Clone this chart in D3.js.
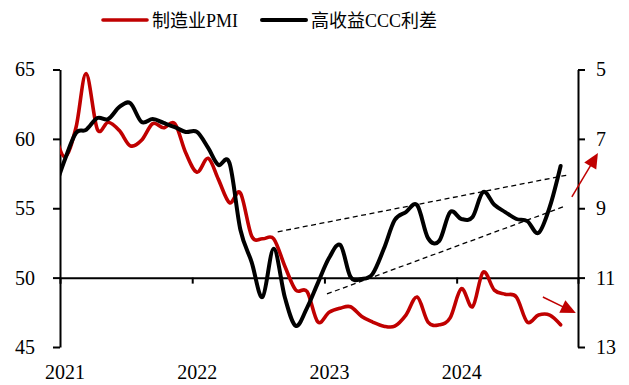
<!DOCTYPE html>
<html>
<head>
<meta charset="utf-8">
<script src="https://cdn.jsdelivr.net/npm/d3@7"></script>
<style>
  body { margin: 0; background: #fff; }
  svg { display: block; }
  text { font-family: "Liberation Serif", "Times New Roman", "Noto Sans CJK SC", serif; fill: #000; }
</style>
</head>
<body>
<svg id="chart" width="629" height="385"></svg>
<script>
// Monthly observations (Dec 2020 – Oct 2024)
const months = [
  "2020-12",
  "2021-01","2021-02","2021-03","2021-04","2021-05","2021-06","2021-07","2021-08","2021-09","2021-10","2021-11","2021-12",
  "2022-01","2022-02","2022-03","2022-04","2022-05","2022-06","2022-07","2022-08","2022-09","2022-10","2022-11","2022-12",
  "2023-01","2023-02","2023-03","2023-04","2023-05","2023-06","2023-07","2023-08","2023-09","2023-10","2023-11","2023-12",
  "2024-01","2024-02","2024-03","2024-04","2024-05","2024-06","2024-07","2024-08","2024-09","2024-10"
];

// Manufacturing PMI (left axis)
const pmi = [
  60.7,
  58.7, 60.8, 64.7, 60.7, 61.2, 60.6, 59.5, 59.9, 61.1, 60.8, 61.1, 59.0,
  57.6, 58.6, 57.1, 55.4, 56.1, 53.0, 52.8, 52.8, 50.8, 49.1, 49.0, 46.8,
  47.5, 47.8, 47.9, 47.2, 46.8, 46.5, 46.5, 47.3, 48.6, 46.8, 46.6, 47.1,
  49.2, 47.9, 50.4, 49.1, 48.8, 48.6, 46.8, 47.3, 47.3, 46.6
];

// High-yield CCC spread, % (right axis, inverted)
const cccSpread = [
  8.55,
  7.61, 6.83, 6.74, 6.40, 6.43, 6.08, 5.97, 6.51, 6.43, 6.54, 6.66, 6.80,
  6.80, 7.26, 7.75, 7.70, 9.62, 10.55, 11.56, 10.17, 11.58, 12.39, 11.87, 11.15,
  10.43, 10.06, 10.98, 11.04, 10.89, 10.17, 9.34, 9.11, 8.91, 9.86, 9.94, 9.11,
  9.31, 9.25, 8.53, 8.90, 9.11, 9.31, 9.37, 9.71, 8.96, 7.78
];

const seriesNames = ["制造业PMI", "高收益CCC利差"];
const leftTicks = [45, 50, 55, 60, 65];
const rightTicks = [5, 7, 9, 11, 13];
const yearLabels = ["2021", "2022", "2023", "2024"];

// Trend channel drawn on the spread (date, right-axis value)
const trendUpper = [["2022-08-25", 9.68], ["2024-11-03", 8.04]];
const trendLower = [["2023-01-08", 11.47], ["2024-10-29", 8.93]];

// Direction arrows (date, right-axis value): spread narrowing, PMI softening
const arrowSpread = [["2024-11-14", 8.67], ["2025-01-25", 7.41]];
const arrowPmi = [["2024-08-26", 11.56], ["2024-11-25", 12.02]];

const RED = "#C00000";
const BLACK = "#000000";

const svg = d3.select("#chart");
const parseMonth = d3.timeParse("%Y-%m");
const parseDay = d3.timeParse("%Y-%m-%d");
const monthDate = m => { const d = parseMonth(m); d.setDate(14); return d; };

const x = d3.scaleTime()
  .domain([new Date(2021, 0, 1), new Date(2024, 11, 1)])
  .range([60, 578]);
const yL = d3.scaleLinear().domain([45, 65]).range([347, 69.5]);
const yR = d3.scaleLinear().domain([5, 13]).range([69.5, 347]);

const rows = months.map((m, i) => ({ date: monthDate(m), pmi: pmi[i], ccc: cccSpread[i] }));

// clip the series to the plotting band between the two value axes
svg.append("defs").append("clipPath").attr("id", "plot-clip")
  .append("rect").attr("x", x.range()[0]).attr("y", 0)
  .attr("width", x.range()[1] - x.range()[0]).attr("height", 385);

// x axis sits on PMI = 50
const xAxisY = yL(50);
const years = yearLabels.map(y => new Date(+y, 0, 1));
const xAxis = svg.append("g").attr("transform", `translate(0,${xAxisY})`)
  .call(d3.axisBottom(x).tickValues(years.slice(1)).tickSize(6).tickFormat(""));
xAxis.select(".domain").attr("stroke", BLACK).attr("stroke-width", 2);
xAxis.selectAll(".tick line").attr("stroke", BLACK).attr("stroke-width", 2);

// year labels centred on each January
svg.append("g").selectAll("text").data(yearLabels).join("text")
  .attr("x", d => x(new Date(+d, 0, 15)))
  .attr("y", 379)
  .attr("text-anchor", "middle")
  .attr("font-size", 20)
  .text(d => d);

// left axis
const left = svg.append("g").attr("transform", `translate(${x.range()[0]},0)`)
  .call(d3.axisLeft(yL).tickValues(leftTicks).tickSize(7).tickPadding(18).tickSizeOuter(0));
left.select(".domain").attr("stroke", BLACK).attr("stroke-width", 2);
left.selectAll(".tick line").attr("stroke", BLACK).attr("stroke-width", 2);
left.selectAll(".tick text").attr("font-size", 20).attr("font-family", null);

// right axis
const right = svg.append("g").attr("transform", `translate(${x.range()[1]},0)`)
  .call(d3.axisRight(yR).tickValues(rightTicks).tickSize(7).tickPadding(11).tickSizeOuter(0));
right.select(".domain").attr("stroke", BLACK).attr("stroke-width", 2);
right.selectAll(".tick line").attr("stroke", BLACK).attr("stroke-width", 2);
right.selectAll(".tick text").attr("font-size", 20).attr("font-family", null);

// trend channel (dashed)
[trendUpper, trendLower].forEach(seg => {
  svg.append("path")
    .attr("d", d3.line()(seg.map(([d, v]) => [x(parseDay(d)), yR(v)])))
    .attr("fill", "none").attr("stroke", BLACK)
    .attr("stroke-width", 1.3).attr("stroke-dasharray", "5,3.5");
});

// series
const plot = svg.append("g").attr("clip-path", "url(#plot-clip)");
const curve = d3.curveCardinal.tension(0);
plot.append("path").datum(rows)
  .attr("d", d3.line().x(d => x(d.date)).y(d => yL(d.pmi)).curve(curve))
  .attr("fill", "none").attr("stroke", RED).attr("stroke-width", 3.6)
  .attr("stroke-linejoin", "round").attr("stroke-linecap", "round");
plot.append("path").datum(rows)
  .attr("d", d3.line().x(d => x(d.date)).y(d => yR(d.ccc)).curve(curve))
  .attr("fill", "none").attr("stroke", BLACK).attr("stroke-width", 4)
  .attr("stroke-linejoin", "round").attr("stroke-linecap", "round");

// arrows with filled heads
function arrow(seg) {
  const [p0, p1] = seg.map(([d, v]) => [x(parseDay(d)), yR(v)]);
  const dx = p1[0] - p0[0], dy = p1[1] - p0[1];
  const len = Math.hypot(dx, dy), ux = dx / len, uy = dy / len;
  const headLen = 15, halfW = 7;
  const bx = p1[0] - ux * headLen, by = p1[1] - uy * headLen;
  svg.append("line")
    .attr("x1", p0[0]).attr("y1", p0[1]).attr("x2", bx + ux * 2).attr("y2", by + uy * 2)
    .attr("stroke", RED).attr("stroke-width", 1.5);
  svg.append("path")
    .attr("d", `M${p1[0]},${p1[1]}L${bx - uy * halfW},${by + ux * halfW}L${bx + uy * halfW},${by - ux * halfW}Z`)
    .attr("fill", RED);
}
arrow(arrowSpread);
arrow(arrowPmi);

// legend
const legend = svg.append("g");
const legendItems = [
  { name: seriesNames[0], color: RED, width: 3.6, x0: 103, x1: 147, tx: 152 },
  { name: seriesNames[1], color: BLACK, width: 4, x0: 262, x1: 306, tx: 311 }
];
legendItems.forEach(it => {
  legend.append("line").attr("x1", it.x0).attr("x2", it.x1).attr("y1", 20).attr("y2", 20)
    .attr("stroke", it.color).attr("stroke-width", it.width).attr("stroke-linecap", "round");
  legend.append("text").attr("x", it.tx).attr("y", 27).attr("font-size", 18).text(it.name);
});
</script>
</body>
</html>
